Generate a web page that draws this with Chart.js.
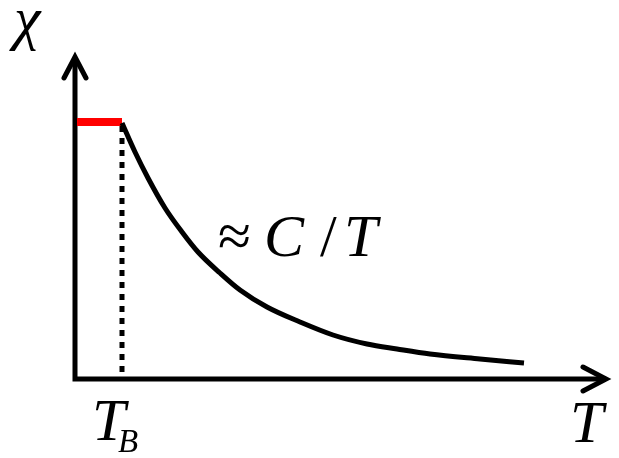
<!DOCTYPE html>
<html>
<head>
<meta charset="utf-8">
<script src="https://cdn.jsdelivr.net/npm/chart.js@4.4.1/dist/chart.umd.min.js"></script>
</head>
<body style="margin:0">
<div id="wrap" style="width:619px;height:458px"><canvas id="chiChart"></canvas></div>
<script>
// susceptibility vs temperature, blocked below T_B and Curie-like above
const curveT = [47, 60, 73, 90, 107, 123, 145, 165, 192, 225, 258, 292, 322, 355, 405, 449];
const curveChi = [256, 227, 201, 171, 147, 127, 106, 89, 72, 57, 44, 35, 30, 25, 20, 16];
const blockedT = [2, 47];
const blockedChi = [257, 257];
const blockingT = 47;
const axisMaxT = 531;
const axisMaxChi = 322;

// text, left, baseline, size, italic
const labels = [
    ['\u03C7', 14, 38, 60, true],
    ['T', 92, 440, 60, true],
    ['B', 118, 452, 33, true],
    ['T', 570, 442, 60, true],
    ['\u2248', 218, 256, 60, false],
    ['C', 264, 256, 60, true],
    ['/', 320, 256, 60, false],
    ['T', 344, 256, 60, true]
];

// axes with open arrow heads plus the dotted marker at T_B and the text labels
const sketchPlugin = {
    id: 'sketch',
    beforeDatasetsDraw(chart) {
        const { ctx, scales } = chart;
        const xs = scales.x, ys = scales.y;
        const x0 = xs.getPixelForValue(0);
        const y0 = ys.getPixelForValue(0);
        const xEnd = xs.getPixelForValue(axisMaxT);
        const yEnd = ys.getPixelForValue(axisMaxChi);
        const xb = xs.getPixelForValue(blockingT);
        const yb = ys.getPixelForValue(blockedChi[0]);

        ctx.save();
        // dotted line down from the blocking point
        ctx.strokeStyle = '#000';
        ctx.lineWidth = 5;
        ctx.setLineDash([6, 6]);
        ctx.beginPath();
        ctx.moveTo(xb, yb + 4);
        ctx.lineTo(xb, y0);
        ctx.stroke();
        ctx.setLineDash([]);

        // axis lines
        ctx.lineWidth = 5;
        ctx.lineCap = 'butt';
        ctx.beginPath();
        ctx.moveTo(x0, yEnd + 2);
        ctx.lineTo(x0, y0 + 2.5);
        ctx.moveTo(x0 - 2.5, y0);
        ctx.lineTo(xEnd - 2, y0);
        ctx.stroke();

        // arrow heads
        ctx.lineCap = 'round';
        ctx.lineJoin = 'miter';
        ctx.beginPath();
        ctx.moveTo(x0 - 11, yEnd + 21);
        ctx.lineTo(x0, yEnd);
        ctx.lineTo(x0 + 11, yEnd + 21);
        ctx.moveTo(xEnd - 23, y0 - 12);
        ctx.lineTo(xEnd, y0);
        ctx.lineTo(xEnd - 23, y0 + 12);
        ctx.stroke();
        ctx.restore();
    },
    afterDraw(chart) {
        const ctx = chart.ctx;
        ctx.fillStyle = '#000';
        labels.forEach(([text, x, base, size, italic]) => {
            ctx.font = (italic ? 'italic ' : '') + size + 'px "Liberation Serif"';
            ctx.fillText(text, x, base);
        });
    }
};

new Chart(document.getElementById('chiChart'), {
    type: 'line',
    data: {
        datasets: [
            {
                data: curveT.map((t, i) => ({ x: t, y: curveChi[i] })),
                borderColor: '#000',
                borderWidth: 5,
                pointRadius: 0,
                cubicInterpolationMode: 'monotone',
                borderCapStyle: 'butt'
            },
            {
                data: blockedT.map((t, i) => ({ x: t, y: blockedChi[i] })),
                borderColor: '#ff0000',
                borderWidth: 8,
                pointRadius: 0,
                borderCapStyle: 'butt'
            }
        ]
    },
    options: {
        responsive: true,
        maintainAspectRatio: false,
        animation: false,
        layout: {
            padding: { left: 75, right: 13, top: 57, bottom: 79 }
        },
        scales: {
            x: { type: 'linear', min: 0, max: axisMaxT, display: false },
            y: { type: 'linear', min: 0, max: axisMaxChi, display: false }
        },
        plugins: {
            legend: { display: false },
            tooltip: { enabled: false }
        }
    },
    plugins: [sketchPlugin]
});
</script>
</body>
</html>
